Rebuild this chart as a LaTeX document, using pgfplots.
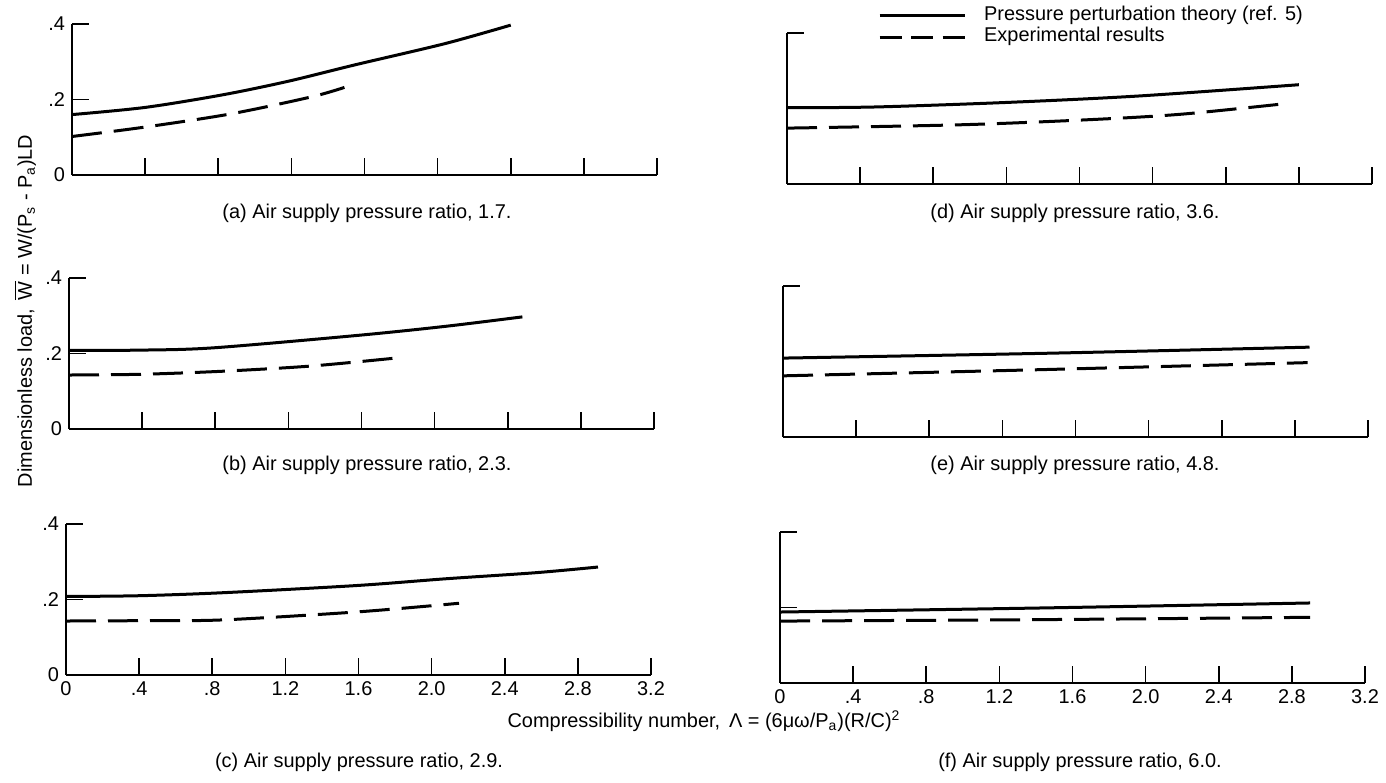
\documentclass[border=0pt]{standalone}
\usepackage{fontspec}
\setmainfont{Liberation Sans}
\usepackage{pgfplots}
\pgfplotsset{compat=1.18}
\begin{document}
\begin{tikzpicture}
\useasboundingbox (0,0) rectangle (693bp,391.5bp);
\pgfplotsset{
  panel/.style={
    at={(#1)}, anchor=south west,
    scale only axis, width=292.5bp, height=75.5bp,
    xmin=0, xmax=3.2, ymin=0, ymax=0.4,
    axis x line*=bottom, axis y line*=left,
    axis line style={-, line width=0.9bp, black},
    xtick={0.4,0.8,1.2,1.6,2.0,2.4,2.8,3.2},
    xticklabels={},
    tick align=inside, major tick length=8.5bp,
    tick style={line width=0.8bp, black},
    clip=false,
    tick label style={font=\fontsize{10}{12}\selectfont},
  },
  leftp/.style={ytick={0,0.2,0.4}, yticklabels={0,.2,.4}},
  bottomp/.style={xtick={0,0.4,0.8,1.2,1.6,2.0,2.4,2.8,3.2},
    xticklabels={0,.4,.8,1.2,1.6,2.0,2.4,2.8,3.2}},
  theory/.style={black, line width=1.5bp, smooth},
  expt/.style={black, line width=1.5bp, smooth, dash pattern=on 15bp off 6bp},
}
% (a)
\begin{axis}[panel={36bp,304bp}, leftp]
\addplot[theory] coordinates {(0,0.160) (0.4,0.179) (0.82,0.212) (1.18,0.248) (1.55,0.292) (2.04,0.348) (2.40,0.397)};
\addplot[expt] coordinates {(0,0.102) (0.40,0.127) (0.87,0.162) (1.31,0.207) (1.49,0.232)};
\end{axis}
% (b)
\begin{axis}[panel={34.5bp,177bp}, leftp]
\addplot[theory] coordinates {(0,0.208) (0.4,0.209) (0.79,0.215) (1.58,0.248) (2.06,0.272) (2.48,0.297)};
\addplot[expt] coordinates {(0,0.143) (0.4,0.145) (0.84,0.153) (1.33,0.167) (1.83,0.190)};
\end{axis}
% (c)
\begin{axis}[panel={33bp,54bp}, leftp, bottomp]
\addplot[theory] coordinates {(0,0.208) (0.4,0.210) (0.86,0.218) (1.59,0.237) (2.08,0.255) (2.57,0.271) (2.91,0.286)};
\addplot[expt] coordinates {(0,0.143) (0.44,0.144) (0.86,0.146) (1.59,0.167) (2.15,0.190)};
\end{axis}
% (d)
\begin{axis}[panel={393.5bp,299.5bp}, ytick={0.4}, yticklabels={},
  legend style={at={(0.145,1.046)}, anchor=west, draw=none, fill=none,
    font=\fontsize{10}{12}\selectfont, row sep=0pt, column sep=8bp,
    nodes={inner sep=1pt, text height=7pt, text depth=2pt}},
  legend cell align=left,
  legend image code/.code={\draw[#1, dash phase=0pt] (0bp,0bp) -- (42.5bp,0bp);}]
\addplot[theory] coordinates {(0,0.202) (0.48,0.204) (1.20,0.216) (1.92,0.233) (2.80,0.263)};
\addlegendentry{Pressure perturbation theory (ref. 5)}
\addplot[expt, legend image post style={dash pattern=on 11bp off 4.75bp}] coordinates {(0,0.148) (0.96,0.157) (1.68,0.171) (2.16,0.185) (2.73,0.213)};
\addlegendentry{Experimental results}
\end{axis}
% (e)
\begin{axis}[panel={391.5bp,173bp}, ytick={0.4}, yticklabels={}]
\addplot[theory] coordinates {(0,0.209) (1.46,0.222) (2.88,0.238)};
\addplot[expt] coordinates {(0,0.162) (1.46,0.179) (2.87,0.197)};
\end{axis}
% (f)
\begin{axis}[panel={390bp,50bp}, ytick={0.2,0.4}, yticklabels={}, bottomp]
\addplot[theory] coordinates {(0,0.188) (1.46,0.199) (2.90,0.212)};
\addplot[expt] coordinates {(0,0.164) (1.46,0.168) (2.90,0.174)};
\end{axis}
% captions and labels
\begin{scope}[every node/.style={font=\fontsize{10}{12}\selectfont}]
\node at (183.5bp,285bp) {(a) Air supply pressure ratio, 1.7.};
\node at (183.5bp,159bp) {(b) Air supply pressure ratio, 2.3.};
\node at (179.5bp,10.5bp) {(c) Air supply pressure ratio, 2.9.};
\node at (537.5bp,285bp) {(d) Air supply pressure ratio, 3.6.};
\node at (537.5bp,159bp) {(e) Air supply pressure ratio, 4.8.};
\node at (540bp,10.5bp) {(f) Air supply pressure ratio, 6.0.};
\node at (352bp,31bp) {Compressibility number,\, Λ = (6μω/P\textsubscript{a})(R/C)\textsuperscript{2}};
\node[rotate=90] at (12.5bp,236bp) {Dimensionless load,\, $\overline{\mbox{W}}$ = W/(P\textsubscript{s} - P\textsubscript{a})LD};
\end{scope}
\end{tikzpicture}
\end{document}
